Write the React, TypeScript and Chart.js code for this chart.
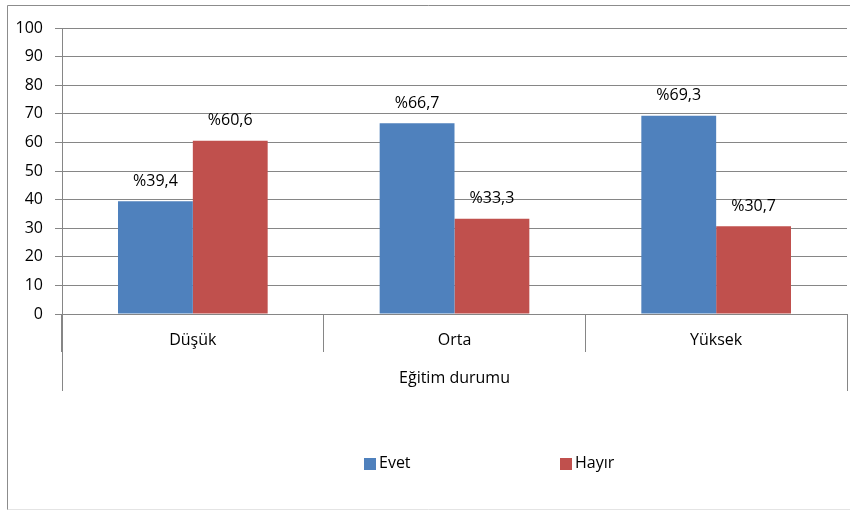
import React, { useEffect, useRef } from "react";
import { Chart, registerables } from "chart.js";

Chart.register(...registerables);

const categories = ["Düşük", "Orta", "Yüksek"];
const seriesNames = ["Evet", "Hayır"];
const evetValues = [39.4, 66.7, 69.3];
const hayirValues = [60.6, 33.3, 30.7];
const yTickMax = 100;
const yTickStep = 10;
const axisTitle = "Eğitim durumu";

const BLUE = "#4F81BD";
const RED = "#C0504D";
const GRID = "#868686";
const FONT = "'Open Sans', sans-serif";

const decorPlugin = {
  id: "decor",
  beforeDraw(chart: any) {
    const { ctx, width, height } = chart;
    ctx.save();
    ctx.fillStyle = "#ffffff";
    ctx.fillRect(0, 0, width, height);
    ctx.strokeStyle = "#8c8c8c";
    ctx.lineWidth = 1;
    ctx.beginPath();
    ctx.moveTo(7.5, height);
    ctx.lineTo(7.5, 5.5);
    ctx.lineTo(width, 5.5);
    ctx.stroke();
    ctx.strokeStyle = "#e4e4e4";
    ctx.beginPath();
    ctx.moveTo(7.5, 509.5);
    ctx.lineTo(width, 509.5);
    ctx.stroke();
    ctx.restore();
  },
  afterDraw(chart: any) {
    const { ctx, chartArea } = chart;
    ctx.save();
    ctx.strokeStyle = GRID;
    ctx.lineWidth = 1;
    const xL = Math.round(chartArea.left) + 0.5;
    const xR = Math.round(chartArea.right) + 0.5;
    ctx.beginPath();
    ctx.moveTo(xL, chartArea.bottom);
    ctx.lineTo(xL, 391);
    ctx.moveTo(xR, chartArea.bottom);
    ctx.lineTo(xR, 391);
    ctx.stroke();
    ctx.fillStyle = "#000";
    ctx.font = `16px ${FONT}`;
    ctx.textAlign = "center";
    ctx.textBaseline = "middle";
    ctx.fillText(axisTitle, (chartArea.left + chartArea.right) / 2, 378);
    chart.data.datasets.forEach((ds: any, di: number) => {
      const meta = chart.getDatasetMeta(di);
      meta.data.forEach((bar: any, i: number) => {
        const v = ds.data[i];
        const txt = "%" + v.toFixed(1).replace(".", ",");
        ctx.fillText(txt, bar.x, bar.y - 20);
      });
    });
    const legendX = [364, 560];
    chart.data.datasets.forEach((ds: any, di: number) => {
      const x = legendX[di];
      ctx.fillStyle = ds.backgroundColor;
      ctx.fillRect(x, 458, 12, 12);
      ctx.fillStyle = "#000";
      ctx.textAlign = "left";
      ctx.fillText(ds.label, x + 15, 463);
    });
    ctx.restore();
  },
};

export default function App() {
  const ref = useRef<HTMLCanvasElement | null>(null);
  useEffect(() => {
    if (!ref.current) return;
    const chart = new Chart(ref.current, {
      type: "bar",
      data: {
        labels: categories,
        datasets: [
          { label: seriesNames[0], data: evetValues, backgroundColor: BLUE, borderWidth: 0 },
          { label: seriesNames[1], data: hayirValues, backgroundColor: RED, borderWidth: 0 },
        ],
      },
      plugins: [decorPlugin],
      options: {
        responsive: false,
        animation: false,
        devicePixelRatio: 1,
        layout: { padding: { left: 0, top: 28, right: 3, bottom: 0 } },
        plugins: {
          legend: { display: false },
          tooltip: { enabled: false },
        },
        datasets: {
          bar: { categoryPercentage: 0.572, barPercentage: 1 },
        },
        scales: {
          x: {
            offset: true,
            grid: {
              offset: true,
              drawOnChartArea: false,
              drawTicks: true,
              tickLength: 38,
              color: GRID,
            },
            border: { display: true, color: GRID },
            ticks: {
              color: "#000",
              font: { family: FONT, size: 16 },
              padding: -21,
              maxRotation: 0,
            },
            afterFit(scale: any) {
              scale.height = 510 - 314;
            },
          },
          y: {
            min: 0,
            max: yTickMax,
            ticks: {
              stepSize: yTickStep,
              color: "#000",
              font: { family: FONT, size: 16 },
              padding: 12,
            },
            grid: { color: GRID, tickLength: 7 },
            border: { display: true, color: GRID },
            afterFit(scale: any) {
              scale.width = 62;
            },
          },
        },
      },
    } as any);
    return () => chart.destroy();
  }, []);
  return (
    <div style={{ position: "absolute", left: 0, top: 0, width: 850, height: 510 }}>
      <canvas ref={ref} width={850} height={510} />
    </div>
  );
}
